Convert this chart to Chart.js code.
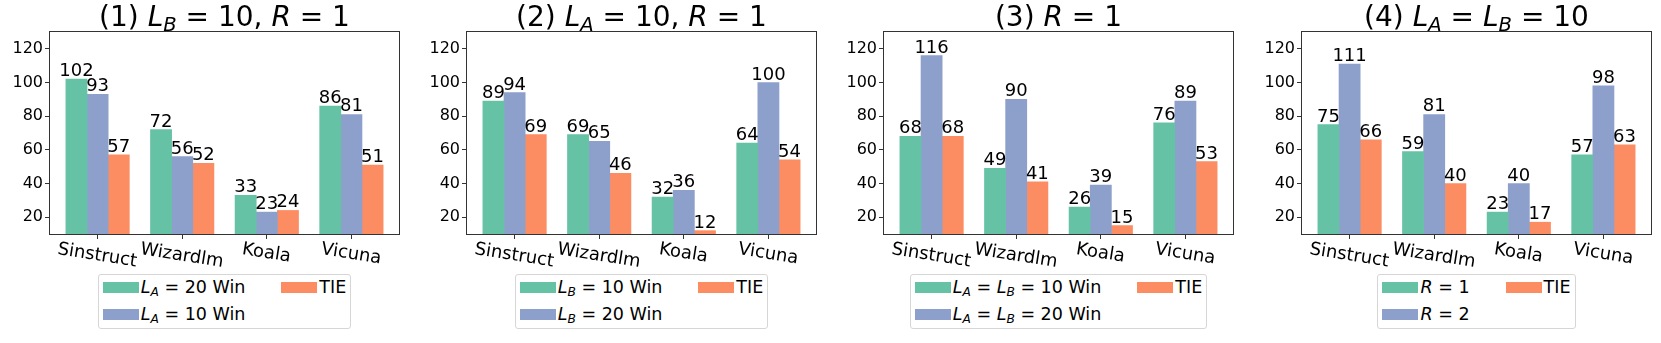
<!DOCTYPE html>
<html>
<head>
<meta charset="utf-8">
<script src="https://cdn.jsdelivr.net/npm/chart.js@4.4.1/dist/chart.umd.min.js"></script>
<style>
  html, body { margin: 0; padding: 0; background: #fff; }
  body { width: 1661px; height: 343px; position: relative; overflow: hidden; font-family: "DejaVu Sans", sans-serif; color: #000; }
  canvas { position: absolute; top: 0; }
  .title { position: absolute; top: 1px; width: 349px; text-align: center; font-size: 28px; line-height: 32px; white-space: nowrap; }
  .legend-wrap { position: absolute; top: 274px; width: 349px; display: flex; justify-content: center; }
  .legend { border: 1px solid #d6d6d6; border-radius: 3px; padding: 1px 4px 3px 4px; display: grid; grid-template-rows: 22px 22px; grid-auto-flow: column; row-gap: 5px; column-gap: 36px; font-size: 17.5px; line-height: 22px; white-space: nowrap; background: #fff; }
  .item { display: flex; align-items: center; }
  .patch { width: 36px; height: 11px; margin-right: 2px; flex: none; }
  sub { font-size: 0.7em; vertical-align: -0.25em; line-height: 0; }
</style>
</head>
<body>
<script>
  // data
  const categories = ["Sinstruct", "Wizardlm", "Koala", "Vicuna"];
  const yTicks = [20, 40, 60, 80, 100, 120];

  const panel1First = [102, 72, 33, 86];
  const panel1Second = [93, 56, 23, 81];
  const panel1Tie = [57, 52, 24, 51];

  const panel2First = [89, 69, 32, 64];
  const panel2Second = [94, 65, 36, 100];
  const panel2Tie = [69, 46, 12, 54];

  const panel3First = [68, 49, 26, 76];
  const panel3Second = [116, 90, 39, 89];
  const panel3Tie = [68, 41, 15, 53];

  const panel4First = [75, 59, 23, 57];
  const panel4Second = [111, 81, 40, 98];
  const panel4Tie = [66, 40, 17, 63];

  const titles = [
    "(1) <i>L</i><sub><i>B</i></sub> = 10, <i>R</i> = 1",
    "(2) <i>L</i><sub><i>A</i></sub> = 10, <i>R</i> = 1",
    "(3) <i>R</i> = 1",
    "(4) <i>L</i><sub><i>A</i></sub> = <i>L</i><sub><i>B</i></sub> = 10"
  ];
  const legendLabels = [
    ["<i>L</i><sub><i>A</i></sub> = 20 Win", "<i>L</i><sub><i>A</i></sub> = 10 Win", "TIE"],
    ["<i>L</i><sub><i>B</i></sub> = 10 Win", "<i>L</i><sub><i>B</i></sub> = 20 Win", "TIE"],
    ["<i>L</i><sub><i>A</i></sub> = <i>L</i><sub><i>B</i></sub> = 10 Win", "<i>L</i><sub><i>A</i></sub> = <i>L</i><sub><i>B</i></sub> = 20 Win", "TIE"],
    ["<i>R</i> = 1", "<i>R</i> = 2", "TIE"]
  ];

  const colors = ["#66c2a5", "#8da0cb", "#fc8d62"];
  const offsets = [-0.25, 0, 0.25];

  const panels = [
    [panel1First, panel1Second, panel1Tie],
    [panel2First, panel2Second, panel2Tie],
    [panel3First, panel3Second, panel3Tie],
    [panel4First, panel4Second, panel4Tie]
  ];
  const plotLefts = [50, 467, 884, 1302];
  const plotWidth = 349;
  const plotTop = 32;
  const plotBottom = 234;
  const axisWidth = 50;
  const rightPad = 10;
  const FONT = "'DejaVu Sans', sans-serif";

  const decorations = {
    id: "decorations",
    afterDatasetsDraw(chart) {
      const ctx = chart.ctx;
      const area = chart.chartArea;
      ctx.save();
      // value labels above bars
      ctx.fillStyle = "#000";
      ctx.font = "18px " + FONT;
      ctx.textAlign = "center";
      ctx.textBaseline = "alphabetic";
      chart.data.datasets.forEach(function (ds, di) {
        chart.getDatasetMeta(di).data.forEach(function (bar, i) {
          ctx.fillText(String(ds.data[i].y), bar.x, bar.y - 3);
        });
      });
      // frame
      ctx.strokeStyle = "#333";
      ctx.lineWidth = 1;
      ctx.strokeRect(Math.round(area.left) - 0.5, Math.round(area.top) - 0.5, Math.round(area.width) + 1, Math.round(area.height) + 1);
      // slanted category labels
      const xScale = chart.scales.x;
      const angle = 9 * Math.PI / 180;
      const cap = 0.729 * 18;
      ctx.font = "18px " + FONT;
      categories.forEach(function (label, i) {
        const w = ctx.measureText(label).width;
        const x = xScale.getPixelForValue(i);
        const cy = area.bottom + 7 + (w / 2) * Math.sin(angle) + (cap / 2) * Math.cos(angle);
        ctx.save();
        ctx.translate(x, cy);
        ctx.rotate(angle);
        ctx.fillText(label, 0, cap / 2);
        ctx.restore();
      });
      ctx.restore();
    }
  };

  panels.forEach(function (series, p) {
    const left = plotLefts[p];

    const canvas = document.createElement("canvas");
    canvas.width = axisWidth + plotWidth + rightPad;
    canvas.height = 343;
    canvas.style.left = (left - axisWidth) + "px";
    canvas.style.width = canvas.width + "px";
    canvas.style.height = canvas.height + "px";
    document.body.appendChild(canvas);

    const title = document.createElement("div");
    title.className = "title";
    title.style.left = left + "px";
    title.innerHTML = titles[p];
    document.body.appendChild(title);

    const wrap = document.createElement("div");
    wrap.className = "legend-wrap";
    wrap.style.left = left + "px";
    const legend = document.createElement("div");
    legend.className = "legend";
    legendLabels[p].forEach(function (text, k) {
      const item = document.createElement("div");
      item.className = "item";
      item.innerHTML = '<span class="patch" style="background:' + colors[k] + '"></span><span>' + text + "</span>";
      legend.appendChild(item);
    });
    wrap.appendChild(legend);
    document.body.appendChild(wrap);

    new Chart(canvas, {
      type: "bar",
      data: {
        datasets: series.map(function (values, k) {
          return {
            data: values.map(function (v, i) { return { x: i + offsets[k], y: v }; }),
            backgroundColor: colors[k],
            borderWidth: 0,
            grouped: false,
            barPercentage: 1,
            categoryPercentage: 1
          };
        })
      },
      options: {
        responsive: false,
        animation: false,
        devicePixelRatio: 1,
        layout: {
          padding: { left: 0, right: rightPad, top: plotTop, bottom: 343 - plotBottom - 10 }
        },
        plugins: {
          legend: { display: false },
          tooltip: { enabled: false }
        },
        scales: {
          x: {
            type: "linear",
            min: -0.5625,
            max: 3.5625,
            offset: false,
            afterBuildTicks: function (scale) {
              scale.ticks = categories.map(function (c, i) { return { value: i }; });
            },
            afterFit: function (scale) { scale.height = 10; },
            ticks: { display: false },
            border: { display: false },
            grid: { display: true, offset: false, drawOnChartArea: false, drawTicks: true, tickLength: 5, tickColor: "#333", tickWidth: 1 }
          },
          y: {
            min: 10,
            max: 130,
            afterBuildTicks: function (scale) {
              scale.ticks = yTicks.map(function (v) { return { value: v }; });
            },
            afterFit: function (scale) { scale.width = axisWidth; },
            ticks: { color: "#000", font: { family: FONT, size: 16 }, padding: 2 },
            border: { display: false },
            grid: { display: true, drawOnChartArea: false, drawTicks: true, tickLength: 5, tickColor: "#333", tickWidth: 1 }
          }
        }
      },
      plugins: [decorations]
    });
  });
</script>
</body>
</html>
